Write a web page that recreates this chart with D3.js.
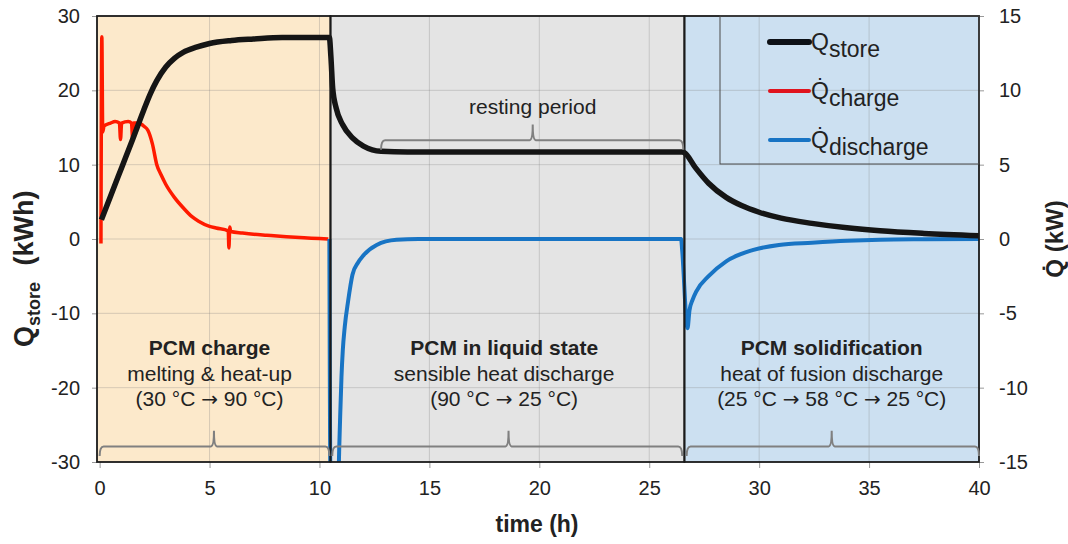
<!DOCTYPE html>
<html>
<head>
<meta charset="utf-8">
<script src="https://cdn.jsdelivr.net/npm/d3@7"></script>
<style>
  body { margin: 0; background: #fff; }
  svg { display: block; font-family: "Liberation Sans", Arial, sans-serif; }
</style>
</head>
<body>
<div id="chart"></div>
<script>
// PCM storage test: stored energy (left axis) and charge/discharge power (right axis)

// time (h), Q_store (kWh)
const storeData = [
  [0.08, 2.6], [0.5, 5.8], [1.0, 9.6], [1.5, 13.4], [2.0, 17.3], [2.3, 19.5], [2.6, 21.3],
  [3.0, 23.1], [3.4, 24.3], [3.8, 25.1], [4.4, 25.8], [5.0, 26.3], [6.0, 26.7], [7.0, 26.9],
  [8.3, 27.1], [9.5, 27.1], [10.45, 27.1], [10.52, 24.5], [10.6, 20.3], [10.76, 17.6],
  [11.05, 15.4], [11.5, 13.6], [12.0, 12.5], [12.4, 12.0], [12.8, 11.8], [14, 11.7],
  [20, 11.7], [26.5, 11.7], [26.6, 11.6], [27.1, 9.6], [27.7, 7.5], [28.5, 5.6], [29.2, 4.5],
  [30.0, 3.6], [31.0, 2.8], [32.4, 2.1], [34, 1.5], [35.5, 1.1], [37.5, 0.75], [40, 0.45]
];

// time (h), Q̇_charge (kW)
const chargeData = [
  [0.06, -0.3], [0.1, 13.6], [0.14, 7.2], [0.2, 7.6], [0.5, 7.8], [0.7, 7.9], [0.9, 7.8],
  [0.95, 6.7], [1.0, 7.8], [1.3, 7.9], [1.45, 7.8], [1.5, 6.7], [1.55, 7.8], [1.8, 7.8],
  [2.0, 7.6], [2.2, 7.3], [2.4, 6.4], [2.6, 5.0], [2.8, 4.3], [3.0, 3.7], [3.4, 2.8],
  [3.8, 2.1], [4.2, 1.5], [4.5, 1.2], [5.0, 0.85], [5.3, 0.74], [5.85, 0.55], [5.88, -0.6],
  [5.92, 0.8], [5.96, 0.5], [6.5, 0.4], [7.0, 0.32], [7.6, 0.25], [8.5, 0.15], [9.3, 0.08],
  [10.0, 0.03], [10.4, 0]
];

// time (h), Q̇_discharge (kW)
const dischargeData = [
  [10.45, 0], [10.5, -16], [10.86, -16], [10.9, -14], [10.94, -12], [11.0, -9.3], [11.06, -7.5],
  [11.15, -5.9], [11.3, -4.2], [11.5, -2.4], [11.75, -1.6], [12.0, -1.1], [12.6, -0.4],
  [13.5, -0.05], [14.5, 0], [20, 0], [26.45, 0], [26.5, -0.8], [26.74, -6.0], [26.83, -4.8],
  [26.97, -4.1], [27.15, -3.5], [27.7, -2.5], [28.5, -1.5], [29.7, -0.75], [30.9, -0.4],
  [32.4, -0.25], [34, -0.12], [35.5, -0.05], [37.5, -0.02], [40, 0]
];

const xTicks = [0, 5, 10, 15, 20, 25, 30, 35, 40];
const yLeftTicks = [-30, -20, -10, 0, 10, 20, 30];
const yRightTicks = [-15, -10, -5, 0, 5, 10, 15];

// phases: start, end (h)
const phaseStart = [-0.12, 10.5, 26.6];
const phaseEnd = [10.5, 26.6, 40];
const phaseFill = ['#FCE9CB', '#E4E4E4', '#CCE0F1'];
const phaseTitle = ['PCM charge', 'PCM in liquid state', 'PCM solidification'];
const phaseLine2 = ['melting & heat-up', 'sensible heat discharge', 'heat of fusion discharge'];
const phaseLine3 = ['(30 °C → 90 °C)', '(90 °C → 25 °C)', '(25 °C → 58 °C → 25 °C)'];
const phaseLabelX = [5.0, 18.4, 33.3];

// braces: from, to, peak (h), line level, end level, peak level (kWh axis)
const braces = [
  {x0: 0.0, x1: 10.45, xm: 5.2, y: -27.9, yEnd: -29.2, yPeak: -25.8},
  {x0: 10.58, x1: 26.5, xm: 18.6, y: -27.9, yEnd: -29.2, yPeak: -25.8},
  {x0: 26.7, x1: 40, xm: 33.3, y: -27.9, yEnd: -29.2, yPeak: -25.8},
  {x0: 12.8, x1: 26.55, xm: 19.7, y: 13.3, yEnd: 12.0, yPeak: 15.4}
];

const WIDTH = 1068;
const HEIGHT = 544;
const FONT_COLOR = '#222';

const x = d3.scaleLinear().domain([-0.12, 40]).range([97, 979]);
const yL = d3.scaleLinear().domain([-30, 30]).range([462, 16]);
const yR = d3.scaleLinear().domain([-15, 15]).range([462, 16]);

const svg = d3.select('#chart').append('svg')
  .attr('width', WIDTH).attr('height', HEIGHT);

svg.append('clipPath').attr('id', 'plot-clip')
  .append('rect')
  .attr('x', x(-0.12)).attr('y', yL(30))
  .attr('width', x(40) - x(-0.12)).attr('height', yL(-30) - yL(30));

// phase backgrounds
svg.append('g').selectAll('rect')
  .data(phaseStart)
  .join('rect')
  .attr('x', (d) => x(d))
  .attr('y', yL(30))
  .attr('width', (d, i) => x(phaseEnd[i]) - x(d))
  .attr('height', yL(-30) - yL(30))
  .attr('fill', (d, i) => phaseFill[i]);

// grid
const grid = svg.append('g').attr('stroke', '#7f7f7f').attr('stroke-opacity', 0.3).attr('stroke-width', 1);
grid.selectAll('.gx')
  .data(xTicks.filter((d) => d > 0 && d < 40))
  .join('line')
  .attr('x1', (d) => x(d)).attr('x2', (d) => x(d))
  .attr('y1', yL(30)).attr('y2', yL(-30));
grid.selectAll('.gy')
  .data(yLeftTicks.filter((d) => d > -30 && d < 30))
  .join('line')
  .attr('x1', x(-0.12)).attr('x2', x(40))
  .attr('y1', (d) => yL(d)).attr('y2', (d) => yL(d));

// axes (plain hyphen for negatives, like the original)
const fmt = (d) => String(d);
const axisLeft = svg.append('g')
  .attr('transform', `translate(${x(-0.12)},0)`)
  .call(d3.axisLeft(yL).tickValues(yLeftTicks).tickFormat(fmt).tickSize(5).tickPadding(12));
const axisRight = svg.append('g')
  .attr('transform', `translate(${x(40)},0)`)
  .call(d3.axisRight(yR).tickValues(yRightTicks).tickFormat(fmt).tickSize(5).tickPadding(15));
const axisBottom = svg.append('g')
  .attr('transform', `translate(0,${yL(-30)})`)
  .call(d3.axisBottom(x).tickValues(xTicks).tickFormat(fmt).tickSize(6).tickPadding(13));

[axisLeft, axisRight, axisBottom].forEach((g) => {
  g.select('.domain').remove();
  g.selectAll('.tick line').attr('stroke', '#999');
  g.selectAll('.tick text')
    .attr('fill', FONT_COLOR)
    .style('font-size', '20px')
    .style('font-family', '"Liberation Sans", Arial, sans-serif');
});

// data lines
const lineL = d3.line().x((d) => x(d[0])).y((d) => yL(d[1])).curve(d3.curveMonotoneX);
const lineR = d3.line().x((d) => x(d[0])).y((d) => yR(d[1])).curve(d3.curveMonotoneX);

const plot = svg.append('g').attr('clip-path', 'url(#plot-clip)');
plot.append('path').datum(chargeData)
  .attr('d', lineR).attr('fill', 'none')
  .attr('stroke', '#FF1A00').attr('stroke-width', 3.5).attr('stroke-linejoin', 'round');
plot.append('path').datum(dischargeData)
  .attr('d', lineR).attr('fill', 'none')
  .attr('stroke', '#1874C4').attr('stroke-width', 4).attr('stroke-linejoin', 'round');
plot.append('path').datum(storeData)
  .attr('d', lineL).attr('fill', 'none')
  .attr('stroke', '#151515').attr('stroke-width', 5.5).attr('stroke-linejoin', 'round');

// phase borders
svg.append('g').selectAll('rect')
  .data(phaseStart)
  .join('rect')
  .attr('x', (d) => x(d))
  .attr('y', yL(30))
  .attr('width', (d, i) => x(phaseEnd[i]) - x(d))
  .attr('height', yL(-30) - yL(30))
  .attr('fill', 'none')
  .attr('stroke', '#1a1a1a')
  .attr('stroke-width', 1.8);

// curly braces
function bracePath(b) {
  const x0 = x(b.x0), x1 = x(b.x1), xm = x(b.xm);
  const yl = yL(b.y), ye = yL(b.yEnd), yp = yL(b.yPeak);
  const r = 4, rp = 3;
  return `M${x0},${ye} Q${x0},${yl} ${x0 + r},${yl} L${xm - rp},${yl} Q${xm},${yl} ${xm},${yp} ` +
    `Q${xm},${yl} ${xm + rp},${yl} L${x1 - r},${yl} Q${x1},${yl} ${x1},${ye}`;
}
svg.append('g').selectAll('path')
  .data(braces)
  .join('path')
  .attr('d', bracePath)
  .attr('fill', 'none')
  .attr('stroke', '#808080')
  .attr('stroke-width', 2);

// phase labels
const labels = svg.append('g').attr('fill', FONT_COLOR).attr('text-anchor', 'middle').style('font-size', '21px');
phaseTitle.forEach((t, i) => {
  const cx = x(phaseLabelX[i]);
  labels.append('text').attr('x', cx).attr('y', yL(-15.6)).attr('font-weight', 'bold').text(t);
  labels.append('text').attr('x', cx).attr('y', yL(-19.1)).text(phaseLine2[i]);
  // the arrows are drawn with DejaVu, whose arrow is bigger, closer to the original
  const line3 = labels.append('text').attr('x', cx).attr('y', yL(-22.45));
  phaseLine3[i].split('→').forEach((part, k) => {
    if (k > 0) {
      line3.append('tspan').style('font-family', '"DejaVu Sans", sans-serif')
        .style('font-size', '20px').text('→');
    }
    line3.append('tspan').text(part);
  });
});
labels.append('text').attr('x', x(19.7)).attr('y', yL(16.8)).text('resting period');

// axis titles
const leftTitle = svg.append('text')
  .attr('transform', 'translate(33,347) rotate(-90)')
  .attr('fill', FONT_COLOR)
  .attr('font-weight', 'bold');
leftTitle.append('tspan').style('font-size', '27px').text('Q');
leftTitle.append('tspan').style('font-size', '18px').attr('dy', 7).text('store');
leftTitle.append('tspan').style('font-size', '27px').attr('dy', -7).attr('dx', 9).text(' (kWh)');

svg.append('text')
  .attr('transform', `translate(1063,${yR(0)}) rotate(-90)`)
  .attr('text-anchor', 'middle')
  .attr('fill', FONT_COLOR)
  .attr('font-weight', 'bold')
  .style('font-size', '24px')
  .text('Q\u0307 (kW)');

svg.append('text')
  .attr('x', 537).attr('y', 532)
  .attr('text-anchor', 'middle')
  .attr('fill', FONT_COLOR)
  .attr('font-weight', 'bold')
  .style('font-size', '23px')
  .text('time (h)');

// legend
const legendItems = [
  {main: 'Q', sub: 'store', color: '#0d1117', width: 6},
  {main: 'Q\u0307', sub: 'charge', color: '#E0141E', width: 4},
  {main: 'Q\u0307', sub: 'discharge', color: '#1874C4', width: 4}
];
const legend = svg.append('g');
legend.append('rect')
  .attr('x', 720).attr('y', yL(30))
  .attr('width', x(40) - 720).attr('height', 148)
  .attr('fill', 'none').attr('stroke', '#4a4a4a').attr('stroke-width', 1);
legendItems.forEach((d, i) => {
  const ly = 42 + i * 49;
  legend.append('line')
    .attr('x1', 770).attr('x2', 809).attr('y1', ly).attr('y2', ly)
    .attr('stroke', d.color).attr('stroke-width', d.width).attr('stroke-linecap', 'round');
  const t = legend.append('text').attr('x', 811).attr('y', ly + 7.5)
    .attr('fill', FONT_COLOR).style('font-size', '23px');
  t.append('tspan').text(d.main);
  t.append('tspan').attr('dy', 7.5).text(d.sub);
});
</script>
</body>
</html>
